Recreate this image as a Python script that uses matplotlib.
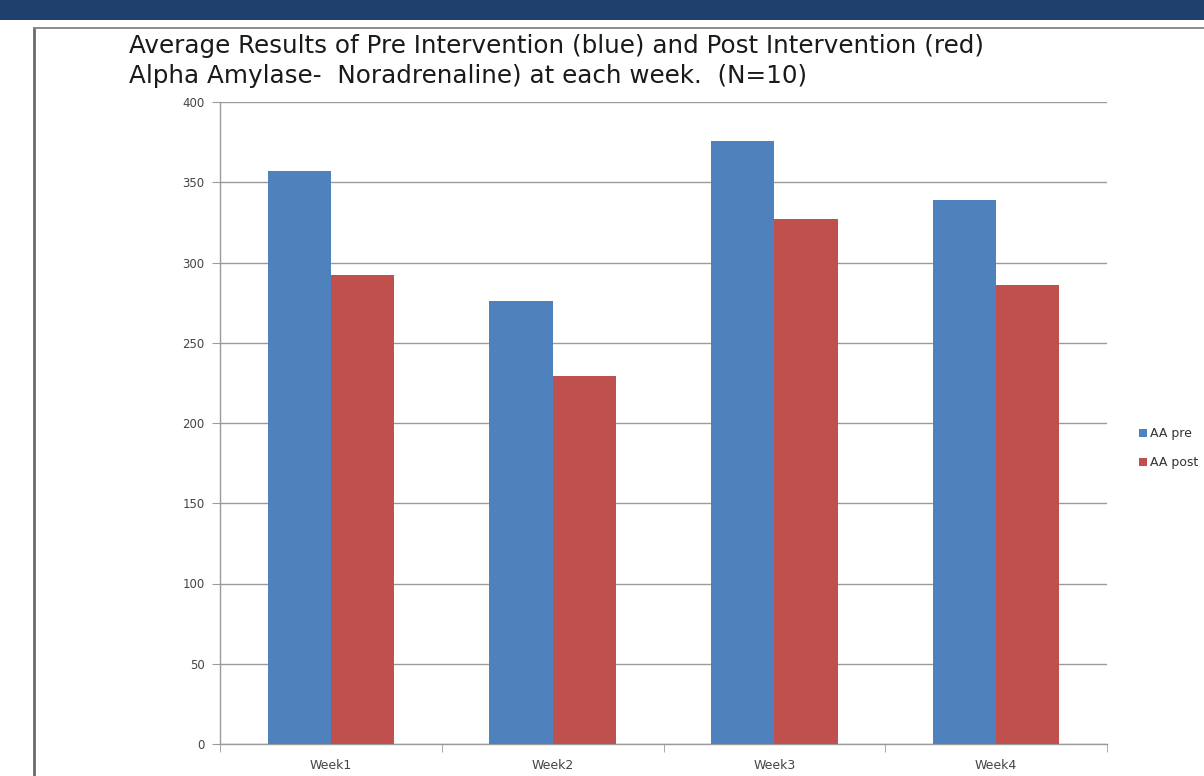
import numpy as np
import matplotlib.pyplot as plt
from matplotlib.patches import Rectangle

weeks = ['Week1', 'Week2', 'Week3', 'Week4']
aa_pre = [357, 276, 376, 339]
aa_post = [292, 229, 327, 286]
y_ticks = [0, 50, 100, 150, 200, 250, 300, 350, 400]

BLUE = '#4f81bd'
RED = '#c0504d'
GRID = '#9a9a9a'
W, H = 1204, 776

fig = plt.figure(figsize=(W / 100, H / 100), dpi=100)
fig.patch.set_facecolor('white')

# header band and slide frame
fig.patches.append(Rectangle((0, 1 - 20 / H), 1, 20 / H, transform=fig.transFigure,
                             facecolor='#1f3f6d', edgecolor='none', zorder=0))
fig.add_artist(plt.Line2D([34 / W, 34 / W], [0, 1 - 28 / H], transform=fig.transFigure,
                          color='#6e6a66', lw=2))
fig.add_artist(plt.Line2D([34 / W, 1], [1 - 28 / H, 1 - 28 / H], transform=fig.transFigure,
                          color='#8a8a8a', lw=1.4))

ax = fig.add_axes([220 / W, 32 / H, 887 / W, 642 / H])
x = np.arange(len(weeks))
w = 0.285
ax.bar(x - w / 2, aa_pre, w, color=BLUE, label='AA pre', zorder=3)
ax.bar(x + w / 2, aa_post, w, color=RED, label='AA post', zorder=3)

ax.set_xlim(-0.5, len(weeks) - 0.5)
ax.set_ylim(0, 400)
ax.set_yticks(y_ticks)
ax.set_yticklabels([str(v) for v in y_ticks], fontsize=8.5, color='#444444')
ax.yaxis.grid(True, color=GRID, lw=1.0, zorder=0)
ax.tick_params(axis='y', length=6, color=GRID, pad=5)

ax.set_xticks(x)
ax.set_xticklabels(weeks, fontsize=9, color='#444444')
ax.set_xticks(np.arange(len(weeks) + 1) - 0.5, minor=True)
ax.tick_params(axis='x', which='major', length=0, pad=11)
ax.tick_params(axis='x', which='minor', length=6, color=GRID)

for side in ['top', 'right']:
    ax.spines[side].set_visible(False)
for side in ['left', 'bottom']:
    ax.spines[side].set_color(GRID)
    ax.spines[side].set_linewidth(1.0)

fig.legend(loc='upper left', bbox_to_anchor=(1133 / W, 1 - 421 / H), frameon=False,
           fontsize=9, borderpad=0, handlelength=0.65, handleheight=0.65,
           handletextpad=0.25, labelspacing=1.3, labelcolor='#333333')

title_font = dict(fontsize=17.7, color='#1a1a1a', family='DejaVu Sans')
fig.text(129 / W, 1 - 53 / H, 'Average Results of Pre Intervention (blue) and Post Intervention (red)',
         va='baseline', **title_font)
fig.text(129 / W, 1 - 83 / H, 'Alpha Amylase-  Noradrenaline) at each week.  (N=10)',
         va='baseline', **title_font)

fig.savefig('out.png', dpi=100)
